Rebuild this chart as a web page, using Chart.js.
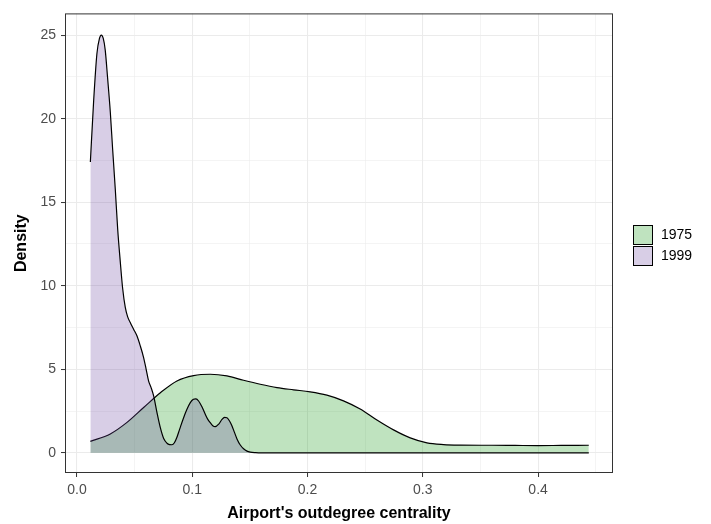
<!DOCTYPE html>
<html><head><meta charset="utf-8">
<script src="https://cdn.jsdelivr.net/npm/chart.js@4"></script>
<style>html,body{margin:0;padding:0;background:#fff}canvas{display:block}</style>
</head><body>
<canvas id="c" width="711" height="524"></canvas>
<script>
const seriesLabels = ['1975', '1999'];

const x1975 = [0.0116, 0.0289, 0.0434, 0.0578, 0.0726, 0.0867, 0.1012, 0.1156, 0.1301, 0.1445, 0.159, 0.1735, 0.1879, 0.2023, 0.2168, 0.2312, 0.2457, 0.2602, 0.2746, 0.2891, 0.3036, 0.318, 0.3325, 0.36, 0.38, 0.40, 0.42, 0.444];
const y1975 = [0.68, 1.13, 1.82, 2.71, 3.61, 4.30, 4.62, 4.70, 4.60, 4.34, 4.10, 3.90, 3.77, 3.65, 3.45, 3.11, 2.62, 1.96, 1.37, 0.89, 0.59, 0.49, 0.46, 0.45, 0.44, 0.43, 0.44, 0.45];

const x1999 = [0.0116, 0.0144, 0.0173, 0.0195, 0.0211, 0.0228, 0.0245, 0.0266, 0.0289, 0.0309, 0.0332, 0.0353, 0.0376, 0.0396, 0.0419, 0.0439, 0.0462, 0.0491, 0.052, 0.0549, 0.0578, 0.0600, 0.0621, 0.0643, 0.0665, 0.0694, 0.0723, 0.0752, 0.0781, 0.0803, 0.0824, 0.0845, 0.0867, 0.0890, 0.0925, 0.0954, 0.0983, 0.1010, 0.1032, 0.1055, 0.1084, 0.1110, 0.1135, 0.1156, 0.1178, 0.1199, 0.1230, 0.1258, 0.1280, 0.1301, 0.1322, 0.1344, 0.1366, 0.1388, 0.1415, 0.1445, 0.1475, 0.1503, 0.155, 0.16, 0.2, 0.3, 0.4, 0.444];
const y1999 = [17.4, 21.0, 23.9, 24.8, 25.0, 24.8, 24.1, 22.4, 20.4, 18.2, 15.8, 13.4, 11.4, 9.85, 8.7, 8.15, 7.8, 7.4, 7.0, 6.4, 5.7, 5.0, 4.3, 3.9, 3.4, 2.4, 1.5, 0.85, 0.57, 0.49, 0.48, 0.6, 0.93, 1.4, 2.1, 2.6, 3.0, 3.2, 3.23, 3.1, 2.75, 2.35, 2.0, 1.8, 1.62, 1.56, 1.72, 2.0, 2.12, 2.1, 1.92, 1.62, 1.22, 0.83, 0.48, 0.24, 0.1, 0.04, 0.01, 0.0, 0.0, 0.0, 0.0, 0.0];

const xTicks = [0, 0.05, 0.1, 0.15, 0.2, 0.25, 0.3, 0.35, 0.4, 0.45];
const xTickLabels = ['0.0', '', '0.1', '', '0.2', '', '0.3', '', '0.4', ''];
const yTicks = [0, 2.5, 5, 7.5, 10, 12.5, 15, 17.5, 20, 22.5, 25];
const yTickLabels = ['0', '', '5', '', '10', '', '15', '', '20', '', '25'];

const fillColors = ['rgba(0,145,0,0.25)', 'rgba(100,60,156,0.25)'];

const toPts = (xs, ys) => xs.map((x, i) => ({x: x, y: ys[i]}));
const FONT = "'Liberation Sans', Arial, sans-serif";

const isMajor = (c) => c.index % 2 === 0;

const panelBorder = {
  id: 'panelBorder',
  afterDraw(chart) {
    const {ctx, chartArea: a} = chart;
    ctx.save();
    ctx.strokeStyle = '#333333';
    ctx.lineWidth = 1;
    ctx.strokeRect(a.left + 0.5, a.top + 0.5, a.right - a.left - 1, a.bottom - a.top - 1);
    ctx.restore();
  }
};

const customLegend = {
  id: 'customLegend',
  afterDraw(chart) {
    const {ctx} = chart;
    ctx.save();
    chart.data.datasets.forEach((ds, i) => {
      const bx = 633, by = 225 + i * 21, bw = 20, bh = 20;
      ctx.fillStyle = '#ffffff';
      ctx.fillRect(bx, by, bw, bh);
      ctx.fillStyle = ds.backgroundColor;
      ctx.fillRect(bx, by, bw, bh);
      ctx.strokeStyle = '#000000';
      ctx.lineWidth = 1;
      ctx.strokeRect(bx + 0.5, by + 0.5, bw - 1, bh - 1);
      ctx.fillStyle = '#000000';
      ctx.font = '14px ' + FONT;
      ctx.textAlign = 'left';
      ctx.textBaseline = 'middle';
      ctx.fillText(ds.label, 661, by + bh / 2 + 0.5);
    });
    ctx.restore();
  }
};

new Chart(document.getElementById('c'), {
  type: 'line',
  data: {
    datasets: [
      {label: seriesLabels[0], data: toPts(x1975, y1975), order: 1,
       borderColor: '#000', borderWidth: 1.2, backgroundColor: fillColors[0],
       fill: 'origin', pointRadius: 0, cubicInterpolationMode: 'monotone'},
      {label: seriesLabels[1], data: toPts(x1999, y1999), order: 0,
       borderColor: '#000', borderWidth: 1.2, backgroundColor: fillColors[1],
       fill: 'origin', pointRadius: 0, cubicInterpolationMode: 'monotone'}
    ]
  },
  options: {
    responsive: false,
    devicePixelRatio: 1,
    animation: false,
    events: [],
    layout: {padding: {top: 10, right: 98, bottom: 0, left: 0}},
    plugins: {legend: {display: false}, tooltip: {enabled: false}},
    scales: {
      x: {
        type: 'linear', min: -0.0104, max: 0.465,
        afterBuildTicks: (s) => { s.ticks = xTicks.map(v => ({value: v})); },
        afterFit: (s) => { s.height = 51; },
        border: {display: false},
        grid: {
          color: '#EBEBEB',
          lineWidth: (c) => isMajor(c) ? 1.07 : 0.55,
          drawTicks: true, tickLength: 4,
          tickColor: (c) => isMajor(c) ? '#333333' : 'rgba(0,0,0,0)',
          tickWidth: 1
        },
        ticks: {
          autoSkip: false, maxRotation: 0, padding: 5,
          color: '#4D4D4D', font: {family: FONT, size: 14},
          callback: (v, i) => xTickLabels[i]
        },
        title: {display: true, text: "Airport's outdegree centrality", color: '#000',
                font: {family: FONT, size: 16, weight: 'bold'}, padding: {top: 0, bottom: 1}}
      },
      y: {
        type: 'linear', min: -1.21, max: 26.3,
        afterBuildTicks: (s) => { s.ticks = yTicks.map(v => ({value: v})); },
        afterFit: (s) => { s.width = 65; },
        border: {display: false},
        grid: {
          color: '#EBEBEB',
          lineWidth: (c) => isMajor(c) ? 1.07 : 0.55,
          drawTicks: true, tickLength: 4,
          tickColor: (c) => isMajor(c) ? '#333333' : 'rgba(0,0,0,0)',
          tickWidth: 1
        },
        ticks: {
          autoSkip: false, padding: 5,
          color: '#4D4D4D', font: {family: FONT, size: 14},
          callback: (v, i) => yTickLabels[i]
        },
        title: {display: true, text: 'Density', color: '#000',
                font: {family: FONT, size: 16, weight: 'bold'}, padding: {top: 12, bottom: 0}}
      }
    }
  },
  plugins: [panelBorder, customLegend]
});
</script>
</body></html>
